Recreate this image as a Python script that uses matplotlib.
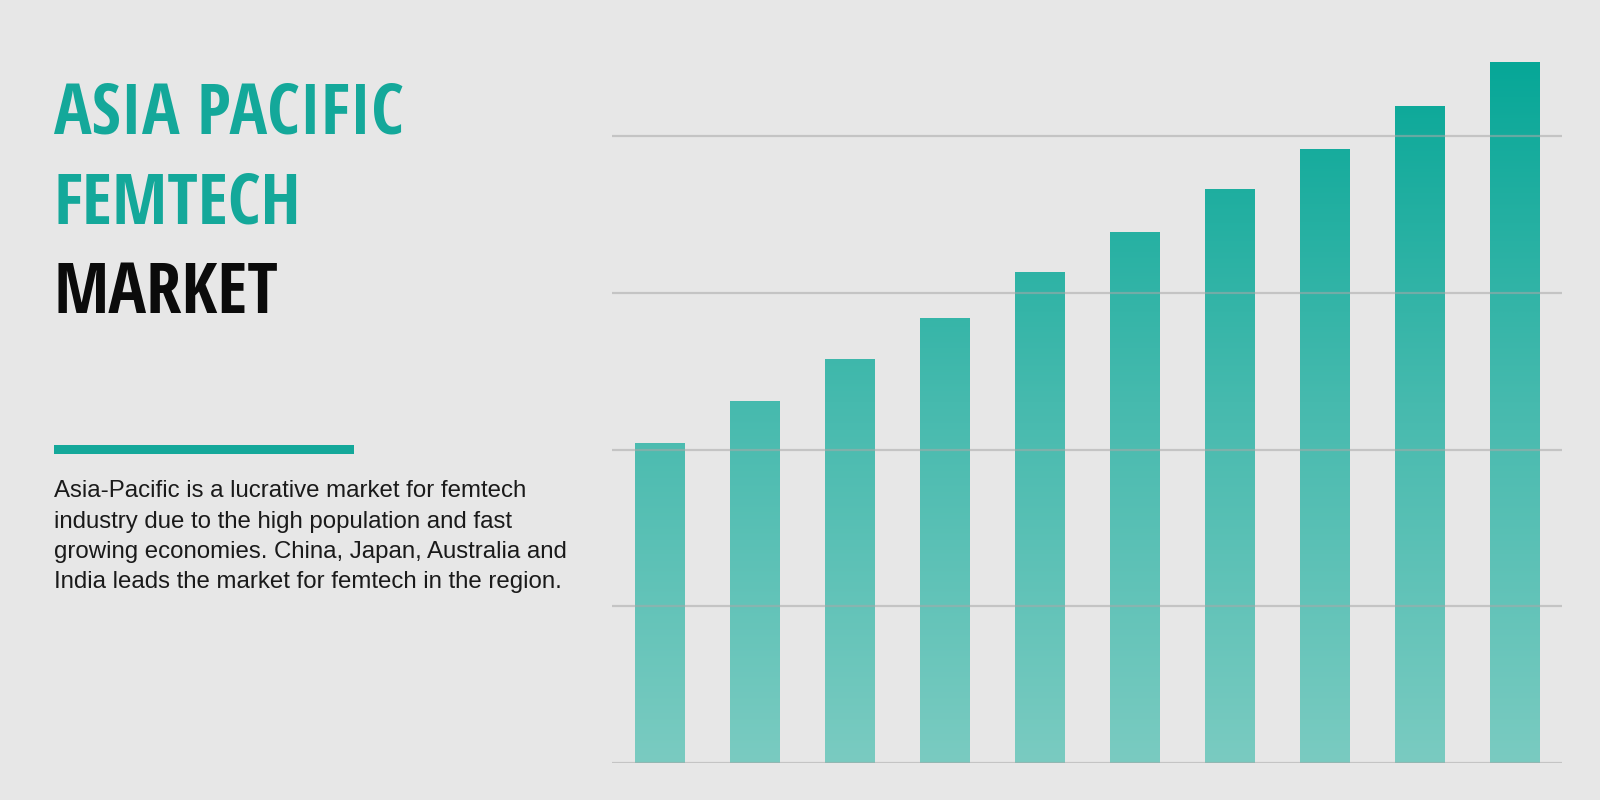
import matplotlib
matplotlib.use("Agg")
import matplotlib.pyplot as plt
import numpy as np
from matplotlib import font_manager
from matplotlib.font_manager import FontProperties
from matplotlib.textpath import TextPath
from matplotlib.colors import LinearSegmentedColormap
from matplotlib.patches import Rectangle

# data (grid step = 1 unit)
bar_pos = np.arange(10)
bar_values = [2.04, 2.31, 2.58, 2.84, 3.13, 3.39, 3.66, 3.92, 4.19, 4.47]
grid_levels = [0, 1, 2, 3, 4]

title_lines = ["ASIA PACIFIC", "FEMTECH", "MARKET"]
title_colors = ["#14a89a", "#14a89a", "#0b0b0b"]
body_lines = [
    "Asia-Pacific is a lucrative market for femtech",
    "industry due to the high population and fast",
    "growing economies. China, Japan, Australia and",
    "India leads the market for femtech in the region.",
]

W, H = 1600, 800
bg = "#e7e7e7"
teal = "#14a89a"

sans_families = ["Liberation Sans", "DejaVu Sans", "Noto Sans", "Roboto",
                 "Open Sans", "Lato", "Inter"]


def px(x, y):
    # pixel position (from top-left) -> figure fraction
    return x / W, 1 - y / H


def narrow_bold_font():
    # narrowest bold plain sans face that is installed
    best = None
    for f in font_manager.fontManager.ttflist:
        if not any(f.name.startswith(s) for s in sans_families):
            continue
        if "Mono" in f.name or "CJK" in f.name:
            continue
        w = f.weight if isinstance(f.weight, int) else {"bold": 700, "heavy": 800, "black": 900}.get(str(f.weight), 400)
        if w < 600 or f.style != "normal":
            continue
        try:
            fp = FontProperties(fname=f.fname)
            ext = TextPath((0, 0), "ASIA PACIFIC", size=100, prop=fp).get_extents()
        except Exception:
            continue
        if ext.height <= 0:
            continue
        ratio = ext.width / ext.height
        if best is None or ratio < best[0]:
            best = (ratio, f.fname)
    return best


best = narrow_bold_font()
if best is not None:
    title_fp = FontProperties(fname=best[1])
else:
    title_fp = FontProperties(family="DejaVu Sans", weight="bold")

fig = plt.figure(figsize=(16, 8), dpi=100, facecolor=bg)

# chart area
ax = fig.add_axes([612 / W, (H - 763) / H, 950 / W, 4.6 * 156.75 / H])
ax.set_facecolor(bg)
for s in ax.spines.values():
    s.set_visible(False)
ax.set_xticks([])
ax.set_yticks([])

cmap = LinearSegmentedColormap.from_list("tealgrad", ["#7acbc1", "#46baae", "#03a696"])
grad = np.linspace(0, 1, 256).reshape(-1, 1)

bars = ax.bar(bar_pos, bar_values, width=0.52, color="none", edgecolor="none", zorder=2)
for b in bars:
    im = ax.imshow(grad, cmap=cmap, origin="lower", aspect="auto",
                   extent=[b.get_x(), b.get_x() + b.get_width(), 0, 4.6],
                   zorder=2, interpolation="bicubic")
    im.set_clip_path(b)
ax.set_xlim(-0.5, 9.5)
ax.set_ylim(0, 4.6)

for g in grid_levels:
    ax.axhline(g, color="#a8a8a8", lw=1.6, alpha=0.55, zorder=3)

# titles
baselines = [133, 223, 313]
titles = []
for line, col, yb in zip(title_lines, title_colors, baselines):
    t = fig.text(*px(54, yb), line, color=col, fontproperties=title_fp,
                 fontsize=50, va="baseline", ha="left")
    titles.append(t)

# scale title so "ASIA PACIFIC" spans ~348 px like the reference
fig.canvas.draw()
r = fig.canvas.get_renderer()
wpx = titles[0].get_window_extent(r).width
new_size = 50 * 350 / wpx
for t in titles:
    t.set_fontsize(new_size)

# accent rule
fig.add_artist(Rectangle(px(54, 454), 300 / W, 9 / H, transform=fig.transFigure,
                         facecolor=teal, edgecolor="none"))

# body text
body_base = [497, 528, 558, 588]
for line, yb in zip(body_lines, body_base):
    fig.text(*px(54, yb), line, color="#1a1a1a", family=["Liberation Sans", "DejaVu Sans"],
             fontsize=17.3, va="baseline", ha="left")

fig.savefig("out.png", dpi=100, facecolor=bg)
